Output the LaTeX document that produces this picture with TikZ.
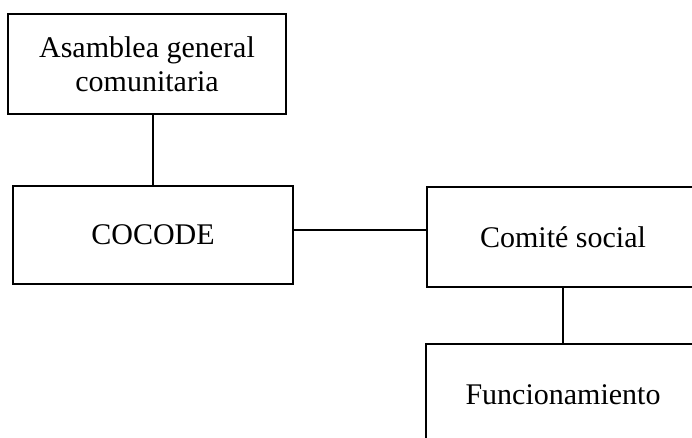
\documentclass[tikz,border=0pt]{standalone}
\usepackage{fontspec}
\setmainfont{Liberation Serif}
\begin{document}
\begin{tikzpicture}[x=1pt,y=-1pt,
  box/.style={draw,line width=1.8pt,rectangle,inner sep=0pt,align=center,
    font=\fontsize{30}{34}\selectfont},
  conn/.style={line width=1.8pt}]
\useasboundingbox (0,0) rectangle (692,438);
\clip (0,0) rectangle (692,438);
\node[box,minimum width=278pt,minimum height=100pt] (a) at (147,64) {Asamblea general\\comunitaria};
\node[box,minimum width=280pt,minimum height=98pt] (b) at (153,235) {COCODE};
\node[box,minimum width=272pt,minimum height=100pt] (c) at (563,237) {Comité social};
\node[box,minimum width=274pt,minimum height=102pt] (d) at (563,395) {Funcionamiento};
\draw[conn] (b.north) -- (b.north |- a.south);
\draw[conn] ([yshift=5pt]b.east) -- ([yshift=5pt]b.east -| c.west);
\draw[conn] (c.south) -- (c.south |- d.north);
\end{tikzpicture}
\end{document}
